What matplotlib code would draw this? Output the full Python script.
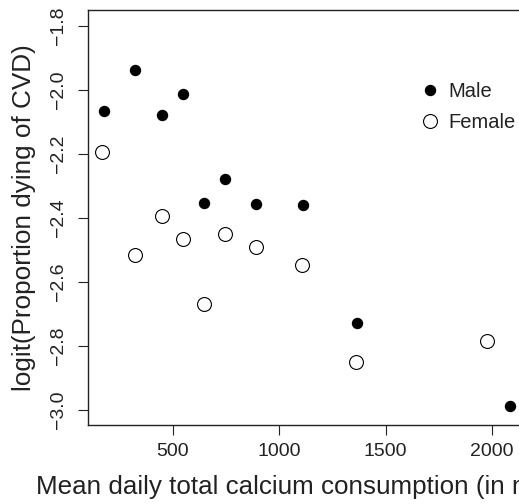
import matplotlib
matplotlib.use("Agg")
import matplotlib.pyplot as plt

plt.rcParams['font.family'] = ['Liberation Sans', 'DejaVu Sans']

# Mean daily calcium intake (mg) and logit of proportion dying of CVD
male_calcium = [177, 323, 448, 548, 647, 747, 892, 1114, 1368, 2083]
male_logit = [-2.068, -1.938, -2.080, -2.013, -2.355, -2.280, -2.357, -2.361, -2.728, -2.988]

female_calcium = [166, 323, 448, 550, 647, 746, 892, 1109, 1362, 1976]
female_logit = [-2.194, -2.516, -2.394, -2.468, -2.670, -2.452, -2.491, -2.548, -2.851, -2.785]

x_ticks = [500, 1000, 1500, 2000]
y_ticks = [-3.0, -2.8, -2.6, -2.4, -2.2, -2.0, -1.8]

W, H = 519, 504
fig = plt.figure(figsize=(W / 100, H / 100), dpi=100)
# axes run past the right edge of the picture, as in the cropped original
ax = fig.add_axes([87.5 / W, (H - 425) / H, (526 - 87.5) / W, (425 - 10) / H])

ax.plot(male_calcium, male_logit, 'o', color='black', markersize=7.2,
        linestyle='none', label='Male')
ax.plot(female_calcium, female_logit, 'o', markerfacecolor='white',
        markeredgecolor='black', markeredgewidth=0.8, markersize=10,
        linestyle='none', label='Female')

ax.set_xlim(99, 2160)
ax.set_ylim(-3.048, -1.751)
ax.set_xticks(x_ticks)
ax.set_yticks(y_ticks)
ax.set_xticklabels([str(t) for t in x_ticks])
ax.set_yticklabels([f"\u2212{abs(t):.1f}" for t in y_ticks])

for s in ax.spines.values():
    s.set_linewidth(1.0)
    s.set_color('#222222')

ax.tick_params(axis='both', direction='out', length=7, width=0.8,
               colors='#222222', labelsize=14)
ax.tick_params(axis='x', pad=6.0)
ax.tick_params(axis='y', pad=7.5, labelrotation=90)
plt.setp(ax.get_yticklabels(), va='center')

ax.set_xlabel('Mean daily total calcium consumption (in mg/day)', fontsize=18.7,
              color='#222222', ha='left', va='top')
# label starts near the left edge and runs off the right side, as in the original
ax.xaxis.set_label_coords(-0.1174, -0.12)
ax.set_ylabel('logit(Proportion dying of CVD)', fontsize=18.8,
              color='#222222', labelpad=10)

ax.legend(loc='upper left', bbox_to_anchor=(420.3 / W, 1 - 82 / H),
          bbox_transform=fig.transFigure, frameon=False, fontsize=14.5,
          handlelength=1.0, handletextpad=0.4, labelspacing=0.6,
          borderpad=0, borderaxespad=0, labelcolor='#222222')

fig.savefig('out.png', dpi=100)
